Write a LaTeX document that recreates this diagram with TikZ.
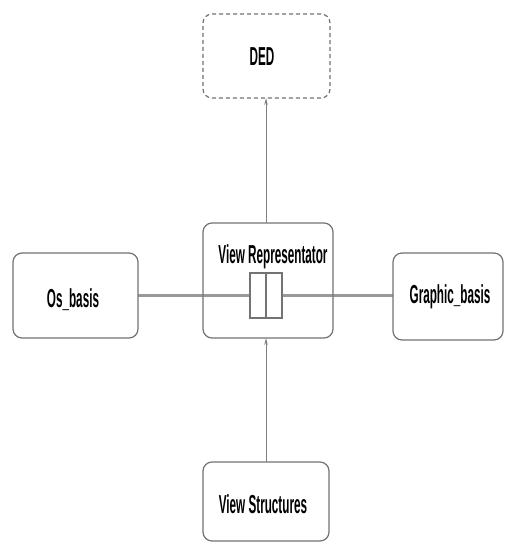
\documentclass[tikz,border=0pt]{standalone}
\usepackage{fontspec}
\setmainfont[FakeStretch=0.45]{Liberation Sans}
\usetikzlibrary{arrows.meta}
\tikzset{
  box/.style={draw=black!55, line width=1.2pt, rounded corners=9pt, fill=white,
    inner sep=0pt, outer sep=0pt},
  ghostbox/.style={box, dash pattern=on 4pt off 3pt},
  lbl/.style={anchor=base, inner sep=0pt, font=\fontsize{26}{30}\selectfont\bfseries},
  link/.style={draw=black!40, line width=2.2pt},
  dep/.style={draw=black!50, line width=0.9pt, -{Stealth[length=7pt,width=3.5pt]}},
  port/.style={draw=black!55, line width=1.1pt, fill=white, inner sep=0pt,
    minimum width=32pt, minimum height=45pt},
}
\begin{document}
\begin{tikzpicture}[x=1pt,y=-1pt]
\useasboundingbox[fill=white] (0,0) rectangle (507,543);

% horizontal link between the two basis components
\coordinate (hl) at (138,295.5);
\coordinate (hr) at (393,295.5);
\draw[link] (hl) -- (hr);

% components
\node[ghostbox, minimum width=127pt, minimum height=84pt] (ded) at (266.5,56) {};
\node[box, fill=none, minimum width=130pt, minimum height=115pt] (vr) at (268,280.5) {};
\node[box, minimum width=125pt, minimum height=85pt] (os) at (75.5,295.5) {};
\node[box, minimum width=110pt, minimum height=87pt] (gb) at (448,296.5) {};
\node[box, minimum width=126pt, minimum height=79pt] (vs) at (266,501.5) {};

% interface port in the middle of the representator
\node[port] (pt) at (266,295.5) {};
\draw[draw=black!55, line width=1.1pt] (pt.north) -- (pt.south);

% labels
\node[lbl] (tded) at (262,65) {DED};
\node[lbl] (tvr) at (273,263) {View Representator};
\node[lbl] (tos) at (73,307) {Os\_basis};
\node[lbl] (tgb) at (450,303) {Graphic\_basis};
\node[lbl] (tvs) at (263,513) {View Structures};

% dependencies
\draw[dep] (vs.north) -- (vs.north |- vr.south);
\draw[dep] (vs.north |- vr.north) -- (vs.north |- ded.south);
\end{tikzpicture}
\end{document}
